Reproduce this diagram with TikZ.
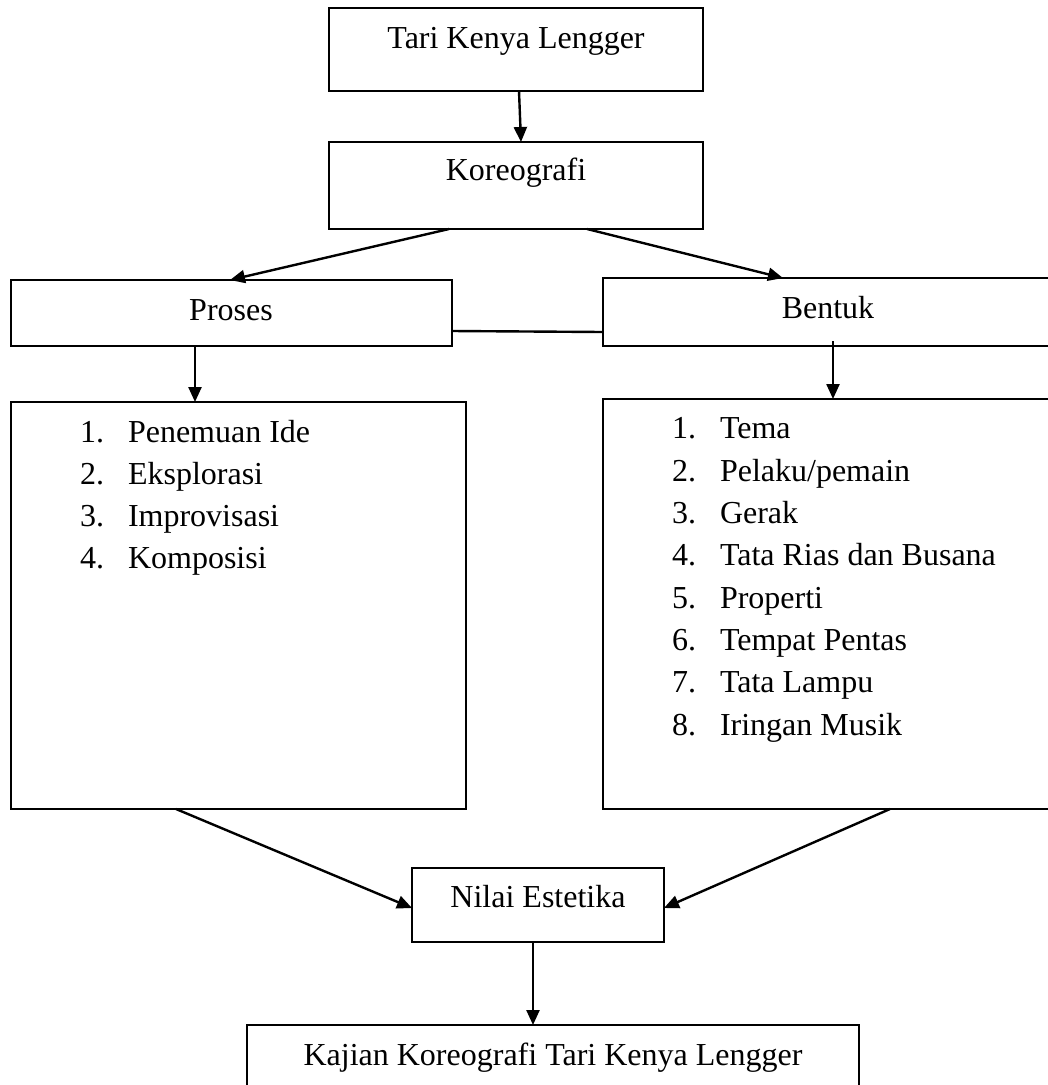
\documentclass[tikz,border=0pt]{standalone}
\usepackage{fontspec}
\setmainfont{Liberation Serif}
\usetikzlibrary{arrows.meta,calc}
\begin{document}
\begin{tikzpicture}[x=1pt,y=-1pt,
  every node/.style={font=\fontsize{32}{42}\selectfont},
  box/.style={draw=black,line width=2.4pt,inner sep=0pt,outer sep=0pt,rectangle},
  txt/.style={inner sep=0pt,outer sep=0pt,anchor=base},
  itm/.style={inner sep=0pt,outer sep=0pt,anchor=base west},
  conn/.style={line width=2.4pt},
  arr/.style={line width=2.4pt,-{Triangle[length=15pt,width=13pt]}}]
\useasboundingbox (0,0) rectangle (1048,1085);
\fill[white] (0,0) rectangle (1048,1085);
% boxes
\node[box,minimum width=374,minimum height=83] (tari) at (516,49.5) {};
\node[box,minimum width=374,minimum height=87] (kor) at (516,185.5) {};
\node[box,minimum width=441,minimum height=66] (proses) at (231.5,313) {};
\node[box,minimum width=446,minimum height=68] (bentuk) at (826,312) {};
\node[box,minimum width=455,minimum height=407] (listL) at (238.5,605.5) {};
\node[box,minimum width=446,minimum height=410] (listR) at (826,604) {};
\node[box,minimum width=252,minimum height=74] (nilai) at (538,905) {};
\node[box,minimum width=612,minimum height=62] (kajian) at (553,1056) {};
% titles
\node[txt] (taritxt) at (516,48) {Tari Kenya Lengger};
\node[txt] (kortxt) at (516,180) {Koreografi};
\node[txt] (prosestxt) at (231,320) {Proses};
\node[txt] (bentuktxt) at (828,318) {Bentuk};
\node[txt] (nilaitxt) at (538,907) {Nilai Estetika};
\node[txt] (kajiantxt) at (553,1065) {Kajian Koreografi Tari Kenya Lengger};
% left list
\node[itm] (ln1) at (80,442) {1.}; \node[itm] (lt1) at (128,442) {Penemuan Ide};
\node[itm] (ln2) at (80,484) {2.}; \node[itm] (lt2) at (128,484) {Eksplorasi};
\node[itm] (ln3) at (80,526) {3.}; \node[itm] (lt3) at (128,526) {Improvisasi};
\node[itm] (ln4) at (80,568) {4.}; \node[itm] (lt4) at (128,568) {Komposisi};
% right list
\node[itm] (rn1) at (672,438) {1.}; \node[itm] (rt1) at (720,438) {Tema};
\node[itm] (rn2) at (672,481) {2.}; \node[itm] (rt2) at (720,481) {Pelaku/pemain};
\node[itm] (rn3) at (672,523) {3.}; \node[itm] (rt3) at (720,523) {Gerak};
\node[itm] (rn4) at (672,565) {4.}; \node[itm] (rt4) at (720,565) {Tata Rias dan Busana};
\node[itm] (rn5) at (672,608) {5.}; \node[itm] (rt5) at (720,608) {Properti};
\node[itm] (rn6) at (672,650) {6.}; \node[itm] (rt6) at (720,650) {Tempat Pentas};
\node[itm] (rn7) at (672,692) {7.}; \node[itm] (rt7) at (720,692) {Tata Lampu};
\node[itm] (rn8) at (672,735) {8.}; \node[itm] (rt8) at (720,735) {Iringan Musik};
% connectors
\draw[arr] ($(tari.south)+(3,0)$) -- ($(kor.north)+(5,0)$);
\draw[arr] ($(kor.south)+(-67,0)$) -- ($(proses.north)+(-1.5,0)$);
\draw[arr] ($(kor.south)+(71,0)$) -- ($(bentuk.north)+(-43,0)$);
\draw[conn] ($(proses.east)+(0,18)$) -- ($(bentuk.west)+(0,20)$);
\draw[arr] ($(proses.south)+(-36.5,0)$) -- ($(listL.north)+(-43.5,0)$);
\draw[arr] ($(bentuk.south)+(7,-5)$) -- ($(listR.north)+(7,0)$);
\draw[arr] ($(listL.south)+(-62.5,0)$) -- ($(nilai.west)+(0,3)$);
\draw[arr] ($(listR.south)+(64,0)$) -- ($(nilai.east)+(0,3)$);
\draw[arr] ($(nilai.south)+(-5,0)$) -- ($(kajian.north)+(-20,0)$);
\end{tikzpicture}
\end{document}
